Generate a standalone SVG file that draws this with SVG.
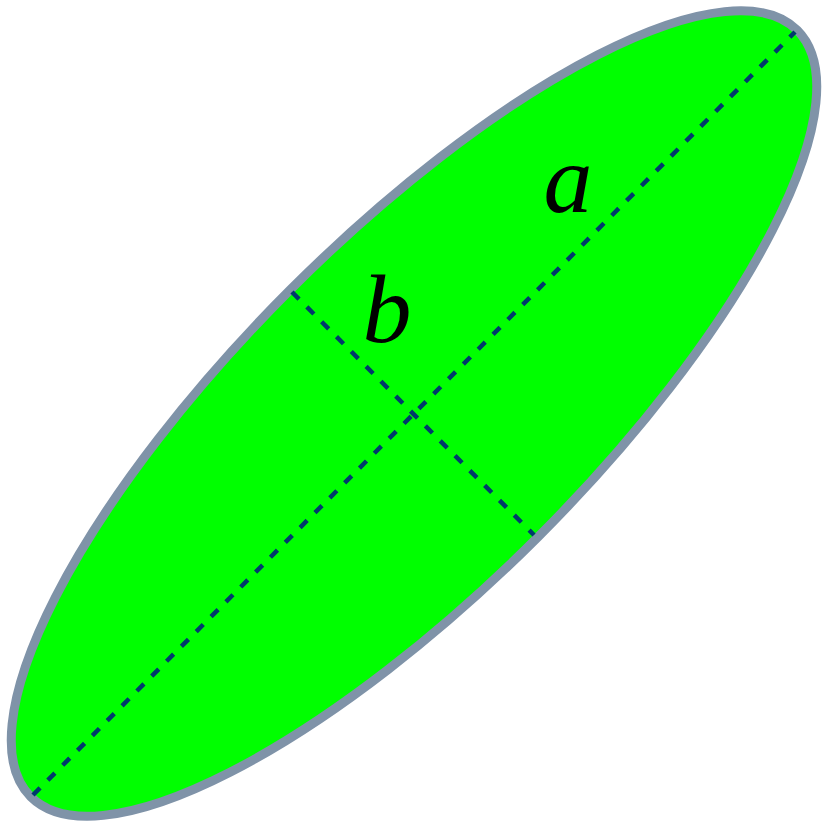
<svg xmlns="http://www.w3.org/2000/svg" width="823" height="824" viewBox="0 0 823 824">
<style>
.axis{stroke:#003a6b;stroke-width:4.5;stroke-dasharray:10 11;fill:none}
.lbl{font-family:"Liberation Serif",serif;font-style:italic;font-size:98px;fill:#000;text-anchor:middle}
</style>
<g id="ellipse">
<ellipse cx="414" cy="413.5" rx="542" ry="175" transform="rotate(-45 414 413.5)" fill="#00ff00" stroke="#7f93a8" stroke-width="9"/>
</g>
<g id="axes">
<line class="axis" x1="33" y1="795" x2="795" y2="32"/>
<line class="axis" x1="292" y1="292" x2="534" y2="535"/>
</g>
<g id="labels">
<text class="lbl" x="568" y="212">a</text>
<text class="lbl" x="387" y="342">b</text>
</g>
</svg>
